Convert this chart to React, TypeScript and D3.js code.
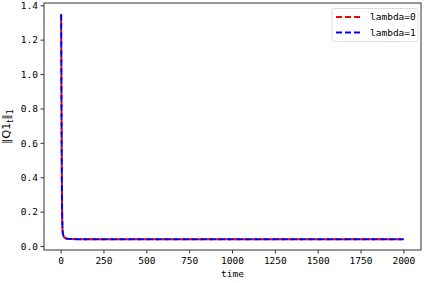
import * as d3 from 'd3';

// time steps and norm values
const times = [0, 1, 2, 3, 4, 5, 6, 8, 10, 15, 20, 30, 40, 60, 100, 200, 500, 1000, 1500, 2000];
const lambda0 = [1.35, 1.1, 0.85, 0.62, 0.42, 0.27, 0.17, 0.1, 0.075, 0.058, 0.051, 0.047, 0.045, 0.044, 0.043, 0.043, 0.043, 0.043, 0.043, 0.043];
const lambda1 = [1.35, 1.1, 0.85, 0.62, 0.42, 0.27, 0.17, 0.1, 0.075, 0.058, 0.051, 0.047, 0.045, 0.044, 0.043, 0.043, 0.043, 0.043, 0.043, 0.043];
const xTicks = [0, 250, 500, 750, 1000, 1250, 1500, 1750, 2000];
const yTicks = [0, 0.2, 0.4, 0.6, 0.8, 1.0, 1.2, 1.4];
const seriesNames = ['lambda=0', 'lambda=1'];
const seriesColors = ['#ff0000', '#0000ff'];

const W = 425;
const H = 283;
const margin = { top: 3, right: 4, bottom: 33, left: 44 };
const font = "'DejaVu Sans Mono', monospace";

export default function App() {
  const iw = W - margin.left - margin.right;
  const ih = H - margin.top - margin.bottom;
  const x = d3.scaleLinear().domain([-100, 2100]).range([0, iw]);
  const y = d3.scaleLinear().domain([-0.02, 1.416]).range([ih, 0]);
  const line = d3
    .line<number>()
    .x((_, i) => x(times[i]))
    .y((d) => y(d));

  return (
    <svg width={W} height={H} style={{ position: 'absolute', left: 0, top: 0, background: '#fff' }}>
      <g transform={`translate(${margin.left},${margin.top})`}>
        <path d={line(lambda0) || ''} fill="none" stroke={seriesColors[0]} strokeWidth={2}
          strokeDasharray="6.5,2.5" strokeDashoffset={3} />
        <path d={line(lambda1) || ''} fill="none" stroke={seriesColors[1]} strokeWidth={2}
          strokeDasharray="6.5,2.5" />
        <rect x={0} y={0} width={iw} height={ih} fill="none" stroke="#333" strokeWidth={1} />
        {xTicks.map((t) => (
          <g key={t} transform={`translate(${x(t)},${ih})`}>
            <line y2={3.5} stroke="#333" />
            <text y={14} textAnchor="middle" fontSize={9.5} fontFamily={font} fill="#000">{t}</text>
          </g>
        ))}
        {yTicks.map((t) => (
          <g key={t} transform={`translate(0,${y(t)})`}>
            <line x2={-3.5} stroke="#333" />
            <text x={-6} dy="0.35em" textAnchor="end" fontSize={9.5} fontFamily={font} fill="#000">
              {t.toFixed(1)}
            </text>
          </g>
        ))}
        <text x={iw / 2} y={ih + 27} textAnchor="middle" fontSize={9.5} fontFamily={font} fill="#000">time</text>
        <g transform={`translate(-34,${ih / 2}) rotate(-90)`}>
          <text textAnchor="middle" fontSize={11} fontFamily="'DejaVu Sans', sans-serif" fill="#000">
            ‖Q1<tspan fontSize={8} dy={2.5}>t</tspan><tspan dy={-2.5}>‖</tspan><tspan fontSize={8} dy={2.5}>1</tspan>
          </text>
        </g>
        <g transform={`translate(${iw - 89},5.5)`}>
          <rect width={86} height={33} rx={2} fill="#fff" stroke="#ddd" />
          {seriesNames.map((n, i) => (
            <g key={n} transform={`translate(4,${8.5 + i * 15.5})`}>
              <line x1={0} x2={24} stroke={seriesColors[i]} strokeWidth={2} strokeDasharray="6,3" />
              <text x={34} dy="0.35em" fontSize={9.5} fontFamily={font} fill="#000">{n}</text>
            </g>
          ))}
        </g>
      </g>
    </svg>
  );
}
